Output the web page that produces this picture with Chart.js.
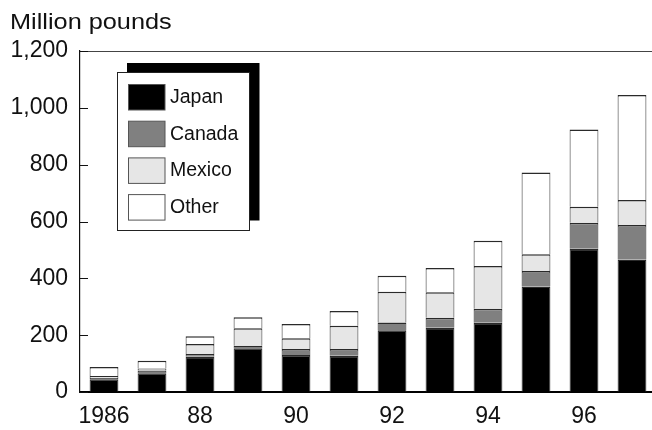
<!DOCTYPE html>
<html>
<head>
<meta charset="utf-8">
<script src="https://cdn.jsdelivr.net/npm/chart.js@4/dist/chart.umd.min.js"></script>
<style>
  html, body { margin: 0; padding: 0; background: #fff; overflow: hidden; }
  #wrap { position: relative; width: 656px; height: 430px; }
</style>
</head>
<body>
<div id="wrap"><canvas id="c"></canvas></div>
<script>
// Shipments by destination, million pounds
const years = ['1986','1987','1988','1989','1990','1991','1992','1993','1994','1995','1996','1997'];
const xTickLabels = ['1986','','88','','90','','92','','94','','96',''];
const yTicks = [0, 200, 400, 600, 800, 1000, 1200];

const japan  = [45, 66, 124, 154, 130, 128, 217, 226, 244, 371, 504, 466];
const canada = [4, 10, 10, 9, 21, 23, 28, 35, 49, 55, 92, 122];
const mexico = [7, 7, 35, 61, 38, 82, 108, 90, 150, 59, 56, 88];
const other  = [32, 27, 27, 39, 50, 52, 56, 85, 89, 287, 272, 369];

const FONT = "'Liberation Sans', Arial, Helvetica, sans-serif";

const barStyle = {
  borderColor: '#2a2a2a',
  borderWidth: { top: 1.5, left: 1, right: 1, bottom: 0 },
  borderSkipped: false,
  categoryPercentage: 0.6,
  barPercentage: 1.0
};

// Axis title, frame line, inward tick marks
const frame = {
  id: 'frame',
  beforeDatasetsDraw(chart) {
    const { ctx, chartArea: a, scales: { y } } = chart;
    ctx.save();
    ctx.strokeStyle = '#444';
    ctx.lineWidth = 1;
    ctx.beginPath();
    ctx.moveTo(a.left, Math.round(a.top) + 0.5);
    ctx.lineTo(chart.width, Math.round(a.top) + 0.5);
    ctx.stroke();
    ctx.strokeStyle = '#111';
    yTicks.forEach(v => {
      const py = Math.round(y.getPixelForValue(v)) + 0.5;
      ctx.beginPath();
      ctx.moveTo(a.left, py);
      ctx.lineTo(a.left + 8, py);
      ctx.stroke();
    });
    ctx.fillStyle = '#111';
    ctx.font = '22px ' + FONT;
    ctx.textAlign = 'left';
    ctx.textBaseline = 'alphabetic';
    ctx.translate(10, 28.5);
    ctx.scale(1.15, 1);
    ctx.fillText('Million pounds', 0, 0);
    ctx.restore();
  }
};

// Boxed legend with a drop shadow
const boxLegend = {
  id: 'boxLegend',
  afterDatasetsDraw(chart) {
    const { ctx } = chart;
    const x0 = 117, y0 = 72, w = 132, h = 158, sh = 10;
    ctx.save();
    ctx.fillStyle = '#000';
    ctx.fillRect(x0 + sh, y0 - 9, w + 0.5, h - 0.5);
    ctx.fillStyle = '#fff';
    ctx.fillRect(x0, y0, w, h);
    ctx.strokeStyle = '#222';
    ctx.lineWidth = 1;
    ctx.strokeRect(x0 + 0.5, y0 + 0.5, w, h);
    ctx.font = '19.5px ' + FONT;
    ctx.textBaseline = 'middle';
    ctx.textAlign = 'left';
    chart.data.datasets.forEach((ds, i) => {
      const sy = 84.5 + i * 36.7;
      ctx.fillStyle = ds.backgroundColor;
      ctx.fillRect(128.5, sy, 36.5, 25.5);
      ctx.strokeStyle = '#555';
      ctx.strokeRect(128.5, sy, 36.5, 25.5);
      ctx.fillStyle = '#111';
      ctx.fillText(ds.label, 170, sy + 13);
    });
    ctx.restore();
  }
};

new Chart(document.getElementById('c'), {
  type: 'bar',
  data: {
    labels: years,
    datasets: [
      { label: 'Japan',  data: japan,  backgroundColor: '#000000', ...barStyle },
      { label: 'Canada', data: canada, backgroundColor: '#808080', ...barStyle },
      { label: 'Mexico', data: mexico, backgroundColor: '#e6e6e6', ...barStyle },
      { label: 'Other',  data: other,  backgroundColor: '#ffffff', ...barStyle }
    ]
  },
  options: {
    responsive: true,
    maintainAspectRatio: false,
    animation: false,
    devicePixelRatio: 1,
    layout: { padding: { top: 51, left: 0, right: 0, bottom: 0 } },
    plugins: { legend: { display: false }, tooltip: { enabled: false } },
    scales: {
      x: {
        stacked: true,
        grid: { display: false, drawTicks: false },
        border: { display: true, color: '#000', width: 2 },
        ticks: {
          autoSkip: false, maxRotation: 0, padding: 11,
          color: '#111', font: { family: FONT, size: 23 },
          callback: (v, i) => xTickLabels[i]
        },
        afterFit(s) { s.height = 38; }
      },
      y: {
        stacked: true,
        min: 0, max: 1200,
        afterBuildTicks(s) { s.ticks = yTicks.map(v => ({ value: v })); },
        grid: { display: false, drawTicks: false },
        border: { display: true, color: '#111', width: 1.2 },
        ticks: {
          padding: 12, color: '#111',
          font: { family: FONT, size: 23 },
          callback: v => v.toLocaleString('en-US')
        },
        afterFit(s) { s.width = 80; }
      }
    }
  },
  plugins: [frame, boxLegend]
});
</script>
</body>
</html>
